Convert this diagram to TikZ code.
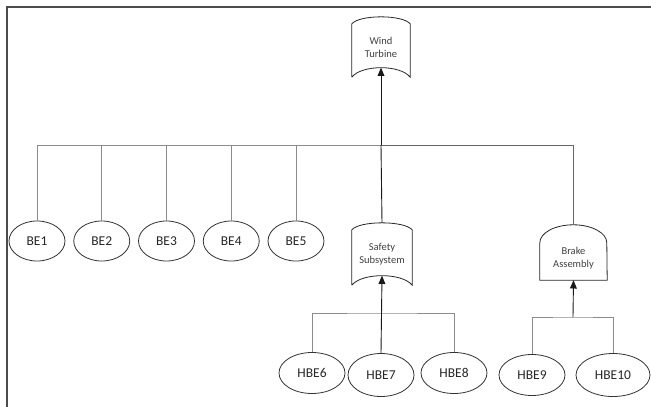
\documentclass[tikz,border=0pt]{standalone}
\usepackage{fontspec}
\setmainfont{Carlito}
\usetikzlibrary{shapes.geometric, arrows}
\tikzstyle{event} = [ellipse, draw=black!80, line width=0.8pt, minimum width=56, minimum height=40, inner sep=0pt, font=\fontsize{13.5}{16}\selectfont, text=black!85]
\tikzstyle{hevent} = [event, minimum width=66, minimum height=41]
\tikzstyle{gate} = [rectangle, align=center, inner sep=0pt, font=\fontsize{10.5}{13}\selectfont, text=black!75]
\tikzstyle{gateline} = [draw=black!85, line width=0.8pt]
\tikzstyle{bus} = [draw=black!45, line width=0.7pt]
\tikzstyle{link} = [draw=black!90, line width=0.9pt]
\tikzstyle{arrow} = [link,->,>=triangle 45]
% outline of the curved gate: arched top, hollow bottom
\newcommand{\orgateoutline}[1]{%
  \draw[gateline] (#1.south west) -- ([yshift=-7pt]#1.north west)
    .. controls +(8,-9.3) and +(-8,-9.3) .. ([yshift=-7pt]#1.north east)
    -- (#1.south east) .. controls +(-10,-12.7) and +(10,-12.7) .. (#1.south west);}

\begin{document}
\begin{tikzpicture}[x=1pt,y=-1pt,node distance=64.75pt]
\useasboundingbox (0,0) rectangle (651,407);
\draw[black!70, line width=1.5pt] (7,407) -- (7,7) -- (651,7);

\node (top) [gate, minimum width=58, minimum height=60] at (381,47) {Wind\\Turbine};
\node (be1) [event] at (37,241) {BE1};
\node (be2) [event, right of = be1] {BE2};
\node (be3) [event, right of = be2] {BE3};
\node (be4) [event, right of = be3] {BE4};
\node (be5) [event, right of = be4] {BE5};
\node (safety) [gate, minimum width=60, minimum height=62] at (382,254) {Safety\\Subsystem};
\node (brake) [gate, minimum width=67, minimum height=44] at (573.5,258) {Brake\\Assembly};
\node (hbe6) [hevent] at (312,373) {HBE6};
\node (hbe7) [hevent, minimum height=43] at (381,375) {HBE7};
\node (hbe8) [hevent] at (454,373) {HBE8};
\node (hbe9) [hevent] at (532,375) {HBE9};
\node (hbe10) [hevent, minimum width=74, minimum height=43] at (613,375) {HBE10};

\orgateoutline{top}
\orgateoutline{safety}
\draw[gateline] (brake.south west) -- ([yshift=-7pt]brake.north west)
  arc[start angle=180, end angle=0, x radius=33.5pt, y radius=18pt]
  -- (brake.south east) -- cycle;

\coordinate (bus) at (381,145);
\coordinate (topin) at ([yshift=9.5pt]top.south);
\coordinate (safetyin) at ([yshift=9.5pt]safety.south);
\coordinate (braketop) at ([yshift=11pt]brake.north);
\coordinate (sbus) at (381,313);
\coordinate (bbus) at (573,317);

\foreach \n in {be1,be2,be3,be4,be5}
  \draw [bus] (\n.north) |- (bus);
\draw [bus, draw=black!60] (braketop) |- (bus);
\draw [link] (safety.north) -- (bus);
\draw [arrow] (bus) -- (topin);
\draw [bus] (hbe6.north) |- (sbus) -| (hbe8.north);
\draw [arrow] (hbe7.north) -- (safetyin);
\draw [bus] (hbe9.north) |- (bbus) -| (hbe10.north);
\draw [arrow] (bbus) -- (brake.south);
\end{tikzpicture}
\end{document}
